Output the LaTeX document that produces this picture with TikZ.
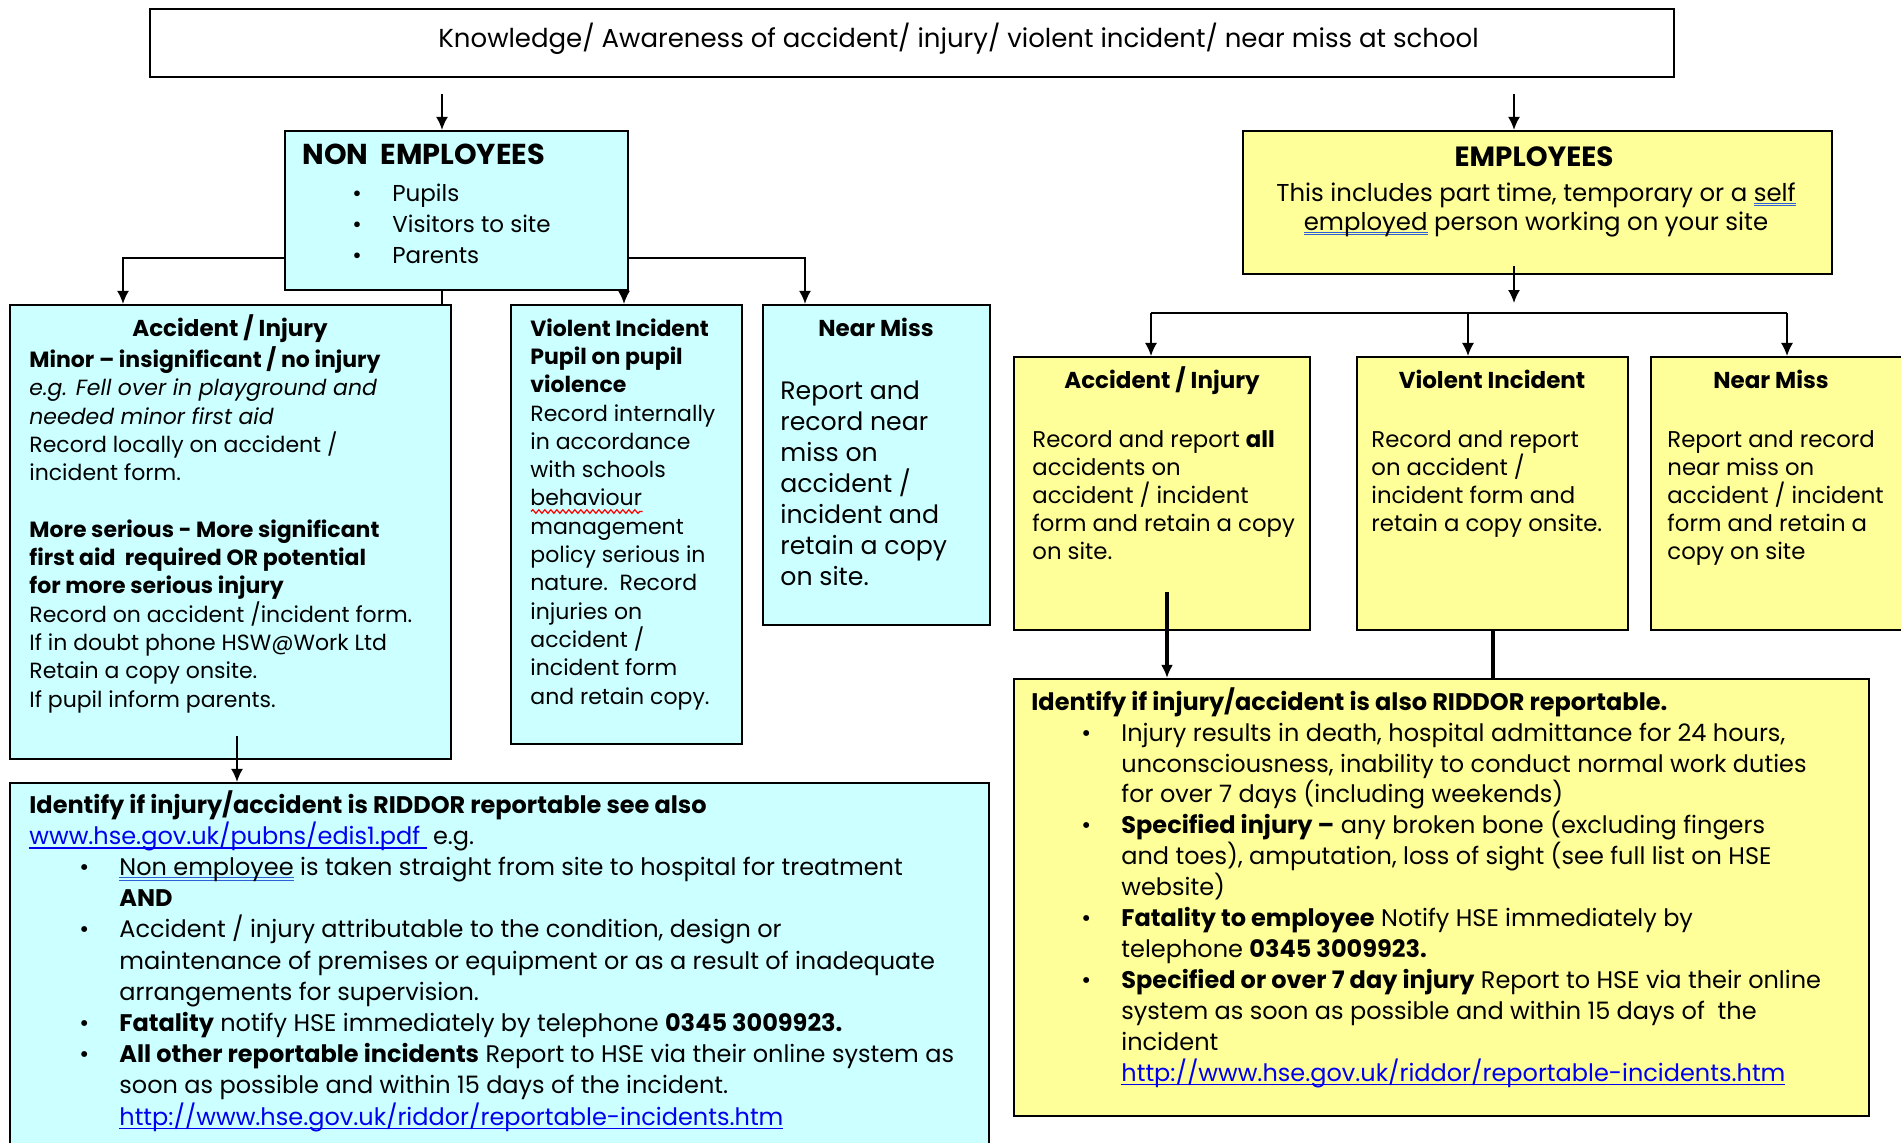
\documentclass[tikz,border=0pt]{standalone}
\usepackage{fontspec}
\setmainfont{Poppins}
\usetikzlibrary{arrows.meta,fit,decorations.pathmorphing}

\definecolor{palecyan}{RGB}{204,255,255}
\definecolor{paleyellow}{RGB}{255,255,153}
\definecolor{linkblue}{RGB}{0,0,238}
\definecolor{checkblue}{RGB}{45,95,215}

\newsavebox{\ulbox}
\newcommand{\weblink}[1]{\sbox{\ulbox}{\color{linkblue}#1}\textcolor{linkblue}{\rlap{\rule[-2.2pt]{\wd\ulbox}{0.7pt}}\usebox{\ulbox}}}
\newcommand{\gramm}[1]{\sbox{\ulbox}{#1}\textcolor{checkblue}{\rlap{\rule[-1.4pt]{\wd\ulbox}{0.5pt}}\rlap{\rule[-2.6pt]{\wd\ulbox}{0.5pt}}}\usebox{\ulbox}}
\newcommand{\spell}[1]{\sbox{\ulbox}{#1}\rlap{\tikz[baseline=0pt,x=1pt,y=1pt]\draw[red,line width=0.6pt,decorate,decoration={snake,amplitude=0.9pt,segment length=3pt}] (0,-2.8) -- (\the\wd\ulbox,-2.8);}\usebox{\ulbox}}
\newcommand{\bul}{\hspace*{25pt}\makebox[20pt][l]{\textbullet}}
\newcommand{\cont}{\hspace*{45pt}}

\begin{document}
\begin{tikzpicture} [x=0.5pt,y=-0.5pt,>={Latex[length=6.5pt,width=6pt]},
	box/.style={draw,line width=1.1pt,inner sep=0pt},
	cyanbox/.style={box,fill=palecyan},
	yelbox/.style={box,fill=paleyellow},
	ttl/.style={anchor=base,inner sep=0pt,font=\bfseries\fontsize{11.5}{14}\selectfont},
	txt/.style={anchor=base west,align=left,inner sep=0pt},
	arr/.style={->,line width=0.9pt},
	heavy/.style={line width=2pt}]
	\useasboundingbox (0,0) rectangle (1901,1142);
	
	\node[box,fit={(150,9) (1674,77)}] (know) {};
	\node[cyanbox,fit={(285,131) (628,290)}] (nonemp) {};
	\node[yelbox,fit={(1243,131) (1832,274)}] (emp) {};
	\node[cyanbox,fit={(10,305) (451,759)}] (acc) {};
	\node[cyanbox,fit={(511,305) (742,744)}] (vio) {};
	\node[cyanbox,fit={(763,305) (990,625)}] (nmc) {};
	\node[cyanbox,fit={(10,783) (989,1152)}] (ridc) {};
	\node[yelbox,fit={(1014,357) (1310,630)}] (yacc) {};
	\node[yelbox,fit={(1357,357) (1628,630)}] (yvio) {};
	\node[yelbox,fit={(1651,357) (1906,630)}] (ynm) {};
	\node[yelbox,fit={(1014,679) (1869,1116)}] (ridy) {};
	
	\node[txt,font=\fontsize{13}{15}\selectfont] (knowtxt) at (438,47) {Knowledge/ Awareness of accident/ injury/ violent incident/ near miss at school};
	
	\node[txt,font=\bfseries\fontsize{14.4}{16}\selectfont] (nonttl) at (302,164) {NON\ \ EMPLOYEES};
	\node[txt,font=\fontsize{11.5}{15.5}\selectfont] (nontxt) at (302,263) {\bul Pupils\\ \bul Visitors to site\\ \bul Parents};
	
	\node[ttl,font=\bfseries\fontsize{13.9}{16}\selectfont] (empttl) at (1534,166) {EMPLOYEES};
	\node[anchor=base,align=center,inner sep=0pt,font=\fontsize{12.2}{14.5}\selectfont] (emptxt) at (1536,230) {This includes part time, temporary or a \gramm{self}\\ \gramm{employed} person working on your site};
	
	\node[ttl] (accttl) at (230,336) {Accident / Injury};
	\node[txt,font=\fontsize{11}{14.15}\selectfont] (acctxt) at (29,707) {\textbf{Minor -- insignificant / no injury}\\
		\textit{e.g. Fell over in playground and}\\
		\textit{needed minor first aid}\\
		Record locally on accident /\\
		incident form.\\[14.15pt]
		\textbf{More serious - More significant}\\
		\textbf{first aid\ \ required OR potential}\\
		\textbf{for more serious injury}\\
		Record on accident /incident form.\\
		If in doubt phone HSW@Work Ltd\\
		Retain a copy onsite.\\
		If pupil inform parents.};
	
	\node[txt,font=\fontsize{11}{14.15}\selectfont] (viotxt) at (530,704) {\textbf{Violent Incident}\\
		\textbf{Pupil on pupil}\\
		\textbf{violence}\\
		Record internally\\
		in accordance\\
		with schools\\
		\spell{behaviour}\\
		management\\
		policy serious in\\
		nature.\ \ Record\\
		injuries on\\
		accident /\\
		incident form\\
		and retain copy.};
	
	\node[ttl] (nmcttl) at (876,336) {Near Miss};
	\node[txt,font=\fontsize{12.6}{15.5}\selectfont] (nmctxt) at (780,585) {Report and\\ record near\\ miss on\\ accident /\\ incident and\\ retain a copy\\ on site.};
	
	\node[txt,font=\fontsize{12}{15.6}\selectfont] (ridctxt) at (29,1125) {\textbf{Identify if injury/accident is RIDDOR reportable see also}\\
		\weblink{www.hse.gov.uk/pubns/edis1.pdf\ } e.g.\\
		\bul\gramm{Non employee} is taken straight from site to hospital for treatment\\
		\cont\textbf{AND}\\
		\bul Accident / injury attributable to the condition, design or\\
		\cont maintenance of premises or equipment or as a result of inadequate\\
		\cont arrangements for supervision.\\
		\bul\textbf{Fatality} notify HSE immediately by telephone \textbf{0345 3009923.}\\
		\bul\textbf{All other reportable incidents} Report to HSE via their online system as\\
		\cont soon as possible and within 15 days of the incident.\\
		\cont\weblink{http://www.hse.gov.uk/riddor/reportable-incidents.htm}};
	
	\node[ttl] (yaccttl) at (1162,388) {Accident / Injury};
	\node[txt,font=\fontsize{11.4}{13.9}\selectfont] (yacctxt) at (1032,559) {Record and report \textbf{all}\\ accidents on\\ accident / incident\\ form and retain a copy\\ on site.};
	\node[ttl] (yviottl) at (1492,388) {Violent Incident};
	\node[txt,font=\fontsize{11.4}{13.9}\selectfont] (yviotxt) at (1371,531) {Record and report\\ on accident /\\ incident form and\\ retain a copy onsite.};
	\node[ttl] (ynmttl) at (1771,388) {Near Miss};
	\node[txt,font=\fontsize{11.4}{13.9}\selectfont] (ynmtxt) at (1667,559) {Report and record\\ near miss on\\ accident / incident\\ form and retain a\\ copy on site};
	
	\node[txt,font=\fontsize{12}{15.45}\selectfont] (ridytxt) at (1031,1081) {\textbf{Identify if injury/accident is also RIDDOR reportable.}\\
		\bul Injury results in death, hospital admittance for 24 hours,\\
		\cont unconsciousness, inability to conduct normal work duties\\
		\cont for over 7 days (including weekends)\\
		\bul\textbf{Specified injury --} any broken bone (excluding fingers\\
		\cont and toes), amputation, loss of sight (see full list on HSE\\
		\cont website)\\
		\bul\textbf{Fatality to employee} Notify HSE immediately by\\
		\cont telephone \textbf{0345 3009923.}\\
		\bul\textbf{Specified or over 7 day injury} Report to HSE via their online\\
		\cont system as soon as possible and within 15 days of\ \ the\\
		\cont incident\\
		\cont\weblink{http://www.hse.gov.uk/riddor/reportable-incidents.htm}};
	
	\coordinate (kl) at (442,94);
	\coordinate (kr) at (1514,94);
	\coordinate (nl) at (123,258);
	\coordinate (nr) at (805,258);
	\coordinate (vm) at (624,300);
	\coordinate (as) at (237,736);
	\coordinate (eb) at (1514,313);
	\coordinate (ebl) at (1151,313);
	\coordinate (ebm) at (1468,313);
	\coordinate (ebr) at (1787,313);
	\coordinate (ys) at (1167,592);
	\coordinate (vs) at (1493,650);
	
	\draw[arr] (kl) -- (kl |- nonemp.north);
	\draw[arr] (kr) -- (kr |- emp.north);
	\draw[arr] (nl -| nonemp.west) -- (nl) -- (nl |- acc.north);
	\draw[arr] (nr -| nonemp.east) -- (nr) -- (nr |- nmc.north);
	\draw[arr] (vm |- nonemp.south) -- (vm |- vio.north);
	\draw[line width=0.9pt] (kl |- nonemp.south) -- (kl |- acc.north);
	\draw[arr] (as) -- (as |- ridc.north);
	
	\draw[arr] ([yshift=4.5pt]eb |- emp.south) -- ([yshift=5pt]eb);
	\draw[line width=1.2pt] (ebl) -- (ebr);
	\foreach \c/\b in {ebl/yacc,ebm/yvio,ebr/ynm}
	\draw[->,line width=0.6pt] (\c) -- (\c |- \b.north);
	\draw[heavy,->] (ys) -- (ys |- ridy.north);
	\draw[heavy] (vs |- yvio.south) -- (vs |- ridy.north);
\end{tikzpicture}
\end{document}
